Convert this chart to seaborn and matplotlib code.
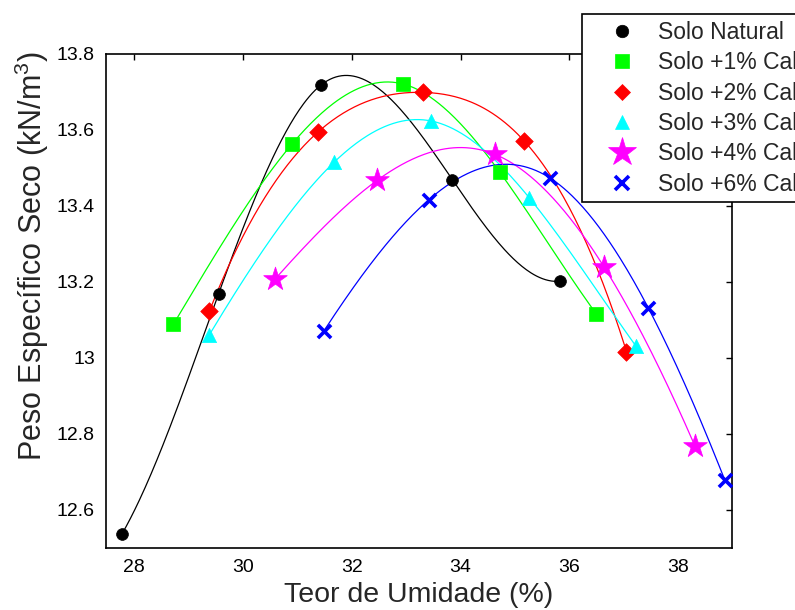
import numpy as np
import pandas as pd
import matplotlib
matplotlib.use("Agg")
import matplotlib.pyplot as plt
from matplotlib.lines import Line2D
from matplotlib.ticker import FuncFormatter
import seaborn as sns

# ---------------- data ----------------
series_names = ["Solo Natural", "Solo +1% Cal", "Solo +2% Cal",
                "Solo +3% Cal", "Solo +4% Cal", "Solo +6% Cal"]

umid_natural = [27.77, 29.55, 31.43, 33.85, 35.83]
peso_natural = [12.536, 13.169, 13.718, 13.469, 13.202]

umid_1 = [28.72, 30.90, 32.945, 34.72, 36.49]
peso_1 = [13.089, 13.563, 13.721, 13.489, 13.117]

umid_2 = [29.38, 31.38, 33.30, 35.17, 37.05]
peso_2 = [13.123, 13.595, 13.699, 13.571, 13.017]

umid_3 = [29.38, 31.68, 33.45, 35.26, 37.22]
peso_3 = [13.061, 13.516, 13.624, 13.422, 13.032]

umid_4 = [30.59, 32.47, 34.63, 36.64, 38.31]
peso_4 = [13.208, 13.468, 13.536, 13.239, 12.768]

umid_6 = [31.49, 33.42, 35.64, 37.45, 38.86]
peso_6 = [13.072, 13.417, 13.474, 13.132, 12.678]

x_ticks = [28, 30, 32, 34, 36, 38]
y_ticks = [12.6, 12.8, 13.0, 13.2, 13.4, 13.6, 13.8]

# ---------------- styles ----------------
colors = ["#000000", "#00ff00", "#ff0000", "#00ffff", "#ff00ff", "#0000ff"]
markers = ["o", "s", "D", "^", "*", "x"]
scatter_sizes = [72, 100, 80, 105, 320, 90]
legend_ms = [9, 9.5, 8, 10.5, 21, 9.5]


def spline_curve(x, y, n=300):
    """Not-a-knot cubic spline (MATLAB 'spline') used to draw the smooth line."""
    x = np.asarray(x, float)
    y = np.asarray(y, float)
    k = len(x)
    h = np.diff(x)
    A = np.zeros((k, k))
    b = np.zeros(k)
    A[0, 0], A[0, 1], A[0, 2] = h[1], -(h[0] + h[1]), h[0]
    A[-1, -3], A[-1, -2], A[-1, -1] = h[-1], -(h[-2] + h[-1]), h[-2]
    for i in range(1, k - 1):
        A[i, i - 1] = h[i - 1]
        A[i, i] = 2 * (h[i - 1] + h[i])
        A[i, i + 1] = h[i]
        b[i] = 6 * ((y[i + 1] - y[i]) / h[i] - (y[i] - y[i - 1]) / h[i - 1])
    M = np.linalg.solve(A, b)
    xs = np.linspace(x[0], x[-1], n)
    idx = np.clip(np.searchsorted(x, xs) - 1, 0, k - 2)
    x0, x1 = x[idx], x[idx + 1]
    hh = x1 - x0
    ys = (M[idx] * (x1 - xs) ** 3 / (6 * hh) + M[idx + 1] * (xs - x0) ** 3 / (6 * hh)
          + (y[idx] / hh - M[idx] * hh / 6) * (x1 - xs)
          + (y[idx + 1] / hh - M[idx + 1] * hh / 6) * (xs - x0))
    return xs, ys


# ---------------- figure ----------------
sns.set_style("white")
plt.rcParams["font.family"] = ["Liberation Sans", "DejaVu Sans"]
plt.rcParams["mathtext.fontset"] = "custom"
plt.rcParams["mathtext.rm"] = "Liberation Sans"
plt.rcParams["mathtext.it"] = "Liberation Sans:italic"

fig = plt.figure(figsize=(7.95, 6.10), dpi=100)
ax = fig.add_axes([106 / 795, 1 - 548 / 610, (732 - 106) / 795, (548 - 54) / 610])

all_x = [umid_natural, umid_1, umid_2, umid_3, umid_4, umid_6]
all_y = [peso_natural, peso_1, peso_2, peso_3, peso_4, peso_6]

handles = []
for name, xs, ys, c, m, s, lms in zip(series_names, all_x, all_y, colors,
                                      markers, scatter_sizes, legend_ms):
    cx, cy = spline_curve(xs, ys)
    sns.lineplot(x=cx, y=cy, color=c, linewidth=0.9, sort=False,
                 estimator=None, ax=ax, legend=False)
    if m == "x":
        sns.scatterplot(x=xs, y=ys, marker=m, s=s, color=c, linewidth=2.6,
                        ax=ax, legend=False, zorder=3)
    else:
        sns.scatterplot(x=xs, y=ys, marker=m, s=s, color=c, edgecolor=c,
                        linewidth=0.5, ax=ax, legend=False, zorder=3)
    handles.append(Line2D([], [], linestyle="none", marker=m, color=c,
                          markerfacecolor=c, markeredgecolor=c,
                          markersize=lms, markeredgewidth=2.6 if m == "x" else 0.5,
                          label=name))

ax.set_xlim(27.48, 38.99)
ax.set_ylim(12.5, 13.8)
ax.set_xticks(x_ticks)
ax.set_yticks(y_ticks)
ax.yaxis.set_major_formatter(FuncFormatter(lambda v, p: f"{v:g}"))
ax.tick_params(direction="in", length=4.5, width=1.0, top=True, right=True,
               labelsize=14, pad=8, colors="black")
for sp in ax.spines.values():
    sp.set_visible(True)
    sp.set_color("black")
    sp.set_linewidth(1.2)

ax.set_xlabel("Teor de Umidade (%)", fontsize=20.5, labelpad=4)
ax.set_ylabel("Peso Específico Seco (kN/m$^3$)", fontsize=22)
ax.yaxis.set_label_coords(-0.088, 0.59)

leg = fig.legend(handles=handles, loc="upper left",
                 bbox_to_anchor=(582 / 795, 1 - 14 / 610),
                 fontsize=16.5, frameon=True, fancybox=False, framealpha=1,
                 edgecolor="black", borderpad=0.3, handlelength=2.89,
                 handletextpad=0.13, labelspacing=0.32, borderaxespad=0)
leg.get_frame().set_linewidth(1.2)

fig.savefig("out.png", dpi=100)
